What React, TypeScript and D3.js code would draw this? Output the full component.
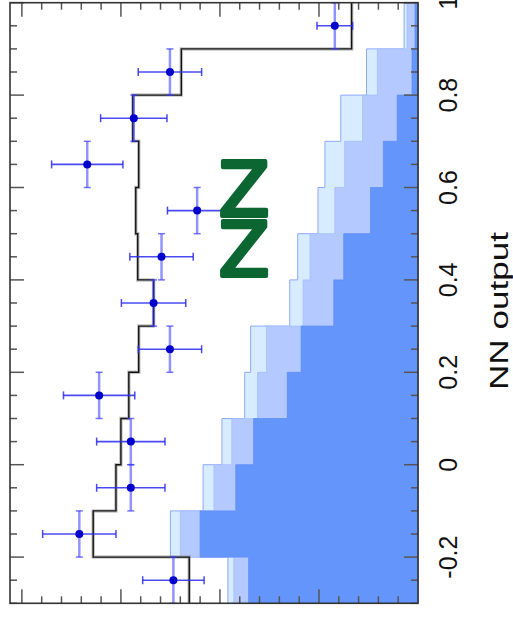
import React from 'react';
import * as d3 from 'd3';

// NN output bins (width 0.1), the plot is drawn rotated: NN output runs upward
const binCenters = [-0.25, -0.15, -0.05, 0.05, 0.15, 0.25, 0.35, 0.45, 0.55, 0.65, 0.75, 0.85, 0.95];
const binWidth = 0.1;

// background components, stacked from the right edge
const bgDark = [17.1, 22.0, 18.4, 16.6, 13.2, 11.8, 8.5, 7.5, 4.8, 3.5, 2.1, 0.6, 0.3];
const bgMid = [1.5, 2.0, 2.2, 2.2, 3.0, 3.5, 3.1, 3.4, 3.6, 3.9, 3.5, 3.5, 0.8];
const bgLight = [0.6, 1.0, 1.1, 1.0, 1.3, 1.6, 1.35, 1.25, 1.7, 2.0, 2.2, 1.1, 0.3];

// total prediction (black step line)
const expected = [23.1, 32.8, 30.5, 30.0, 29.2, 28.2, 26.7, 28.3, 28.5, 28.2, 28.8, 23.9, 6.7];

// observed data with errors
const observed = [24.7, 34.2, 29.0, 29.0, 32.2, 25.05, 26.7, 25.9, 22.3, 33.4, 28.7, 25.05, 8.4];
const obsErr = [3.1, 3.7, 3.45, 3.45, 3.6, 3.2, 3.25, 3.2, 3.0, 3.6, 3.35, 3.2, 1.8];

const nnTicks = [-0.2, 0, 0.2, 0.4, 0.6, 0.8, 1.0];
const nnTickLabels = ['-0.2', '0', '0.2', '0.4', '0.6', '0.8', '1'];
const countMajor = [10, 20, 30, 40];

const W = 513;
const H = 620;
const L = 10, R = 418, T = 2.7, B = 603.3;

export default function App() {
  const x = d3.scaleLinear().domain([0, 41.2]).range([R, L]);
  const y = d3.scaleLinear().domain([-0.3, 1.0]).range([B, T]);

  const edges = binCenters.map(c => c - binWidth / 2).concat([binCenters[binCenters.length - 1] + binWidth / 2]);
  const cumMid = bgDark.map((d, i) => d + bgMid[i]);
  const cumLight = cumMid.map((d, i) => d + bgLight[i]);

  const pts = (vals: number[]) => edges.map((e, i) => ({ e, v: vals[Math.min(i, vals.length - 1)] }));

  const area = d3.area<{ e: number; v: number }>()
    .y(d => y(d.e))
    .x0(x(0))
    .x1(d => x(d.v))
    .curve(d3.curveStepBefore);

  const line = d3.line<{ e: number; v: number }>()
    .x(d => x(d.v))
    .y(d => y(d.e))
    .curve(d3.curveStepBefore);

  const nnMinor = d3.range(-6, 21).map(k => +(k * 0.05).toFixed(2)).filter(v => !nnTicks.some(t => Math.abs(t - v) < 1e-6));
  const countMinor = d3.range(2, 41, 2).filter(v => v % 10 !== 0);

  const tickColor = '#555';

  return (
    <svg width={W} height={H} style={{ position: 'absolute', left: 0, top: 0, background: '#fff' }}>
      <rect x={0} y={0} width={W} height={H} fill="#fff" />

      {/* stacked backgrounds */}
      <path d={area(pts(cumLight)) || ''} fill="#d7ecff" stroke="#8ea9ff" strokeWidth={1} />
      <path d={area(pts(cumMid)) || ''} fill="#b3c9ff" stroke="#a6bdfb" strokeWidth={0.8} />
      <path d={area(pts(bgDark)) || ''} fill="#6495fb" stroke="#5f8ef5" strokeWidth={0.8} />

      {/* ticks */}
      <g stroke={tickColor} strokeWidth={1.5}>
        {nnTicks.map(t => (
          <g key={'M' + t}>
            <line x1={L} x2={L + 14} y1={y(t)} y2={y(t)} />
            <line x1={R} x2={R - 14} y1={y(t)} y2={y(t)} />
          </g>
        ))}
        {nnMinor.map(t => (
          <g key={'m' + t}>
            <line x1={L} x2={L + 7} y1={y(t)} y2={y(t)} />
            <line x1={R} x2={R - 7} y1={y(t)} y2={y(t)} />
          </g>
        ))}
        {countMajor.map(c => (
          <g key={'C' + c}>
            <line x1={x(c)} x2={x(c)} y1={T} y2={T + 14} />
            <line x1={x(c)} x2={x(c)} y1={B} y2={B - 14} />
          </g>
        ))}
        {countMinor.map(c => (
          <g key={'c' + c}>
            <line x1={x(c)} x2={x(c)} y1={T} y2={T + 7} />
            <line x1={x(c)} x2={x(c)} y1={B} y2={B - 7} />
          </g>
        ))}
      </g>

      {/* expected total */}
      <path d={line(pts(expected)) || ''} fill="none" stroke="#888" strokeOpacity={0.5} strokeWidth={3.5} />
      <path d={line(pts(expected)) || ''} fill="none" stroke="#111" strokeWidth={1.4} />

      {/* data points */}
      {binCenters.map((c, i) => {
        const cx = x(observed[i]);
        const cy = y(c);
        const xl = x(observed[i] - obsErr[i]);
        const xr = x(observed[i] + obsErr[i]);
        const yt = y(c + binWidth / 2);
        const yb = y(c - binWidth / 2);
        return (
          <g key={'d' + i}>
            <line x1={cx} x2={cx} y1={yt} y2={yb} stroke="#3a3aff" strokeOpacity={0.55} strokeWidth={2.5} />
            <line x1={cx - 3.5} x2={cx + 3.5} y1={yt} y2={yt} stroke="#3a3aff" strokeOpacity={0.7} strokeWidth={1.5} />
            <line x1={cx - 3.5} x2={cx + 3.5} y1={yb} y2={yb} stroke="#3a3aff" strokeOpacity={0.7} strokeWidth={1.5} />
            <line x1={xl} x2={xr} y1={cy} y2={cy} stroke="#2a2af0" strokeOpacity={0.85} strokeWidth={1.6} />
            <line x1={xl} x2={xl} y1={cy - 4} y2={cy + 4} stroke="#2a2af0" strokeOpacity={0.85} strokeWidth={1.5} />
            <line x1={xr} x2={xr} y1={cy - 4} y2={cy + 4} stroke="#2a2af0" strokeOpacity={0.85} strokeWidth={1.5} />
            <circle cx={cx} cy={cy} r={4} fill="#0000cc" />
          </g>
        );
      })}

      {/* frame */}
      <rect x={L} y={T} width={R - L} height={B - T} fill="none" stroke="#333" strokeWidth={1.6} />

      {/* ZZ label */}
      <text
        fill="#0b6632"
        stroke="#0b6632"
        strokeWidth={4}
        strokeLinejoin="round"
        strokeLinecap="round"
        fontFamily="DejaVu Sans"
        fontSize={74}
        textAnchor="middle"
      >
        <tspan x={244} y={216}>Z</tspan>
        <tspan x={244} y={276}>Z</tspan>
      </text>

      {/* NN output axis labels (rotated) */}
      <g fontFamily="Liberation Sans, Arial, sans-serif" fontSize={25} fill="#111">
        {nnTicks.map((t, i) => (
          <text key={'l' + t} transform={`translate(447.5,${y(t)}) rotate(-90)`} textAnchor="middle" dominantBaseline="central">
            {nnTickLabels[i]}
          </text>
        ))}
      </g>
      <text
        transform={`translate(508,311) rotate(-90)`}
        textAnchor="middle"
        fontFamily="Liberation Sans, Arial, sans-serif"
        fontSize={26}
        textLength={158}
        lengthAdjust="spacingAndGlyphs"
        fill="#111"
      >
        NN output
      </text>
    </svg>
  );
}
